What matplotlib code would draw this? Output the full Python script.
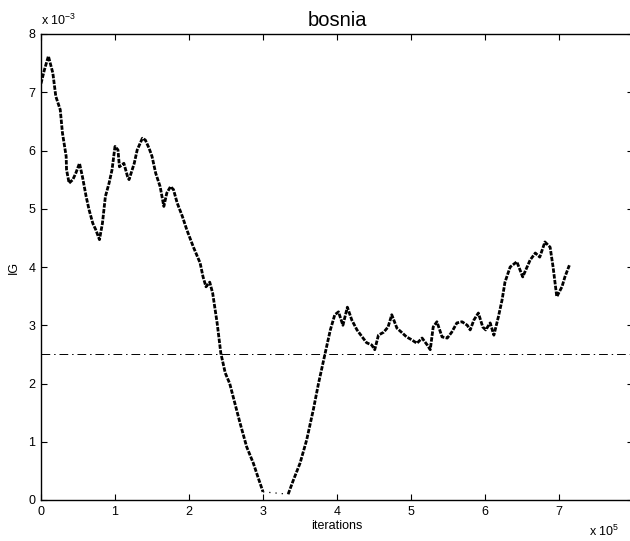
import numpy as np
import matplotlib
matplotlib.use('Agg')
import matplotlib.pyplot as plt

plt.rcParams['font.family'] = ['Liberation Sans', 'DejaVu Sans']
plt.rcParams['mathtext.fontset'] = 'custom'
plt.rcParams['mathtext.rm'] = 'Liberation Sans'

# iterations in units of 1e5, IG in units of 1e-3
x_before = [0.00, 0.045, 0.10, 0.16, 0.20, 0.26, 0.29, 0.34, 0.345, 0.38, 0.43, 0.47,
            0.52, 0.56, 0.61, 0.65, 0.70, 0.74, 0.79, 0.83, 0.87, 0.92, 0.96, 1.00,
            1.04, 1.06, 1.12, 1.17, 1.19, 1.26, 1.30, 1.37, 1.41, 1.46, 1.50, 1.55,
            1.61, 1.66, 1.70, 1.75, 1.79, 1.84, 1.91, 1.97, 2.06, 2.15, 2.19, 2.23,
            2.28, 2.32, 2.38, 2.43, 2.49, 2.55, 2.62, 2.69, 2.78, 2.87, 2.93, 3.00]
ig_before = [7.15, 7.38, 7.62, 7.33, 6.93, 6.70, 6.30, 5.90, 5.67, 5.44, 5.50, 5.61,
             5.78, 5.55, 5.21, 4.98, 4.75, 4.64, 4.47, 4.75, 5.21, 5.44, 5.67, 6.07,
             6.01, 5.72, 5.78, 5.55, 5.50, 5.78, 6.01, 6.21, 6.18, 6.04, 5.90, 5.61,
             5.38, 5.04, 5.27, 5.38, 5.33, 5.10, 4.87, 4.64, 4.34, 4.07, 3.83, 3.66,
             3.74, 3.55, 3.04, 2.52, 2.18, 2.00, 1.66, 1.32, 0.91, 0.63, 0.40, 0.14]

x_after = [3.34, 3.41, 3.50, 3.59, 3.68, 3.75, 3.84, 3.91, 3.97, 4.02, 4.08, 4.14,
           4.20, 4.27, 4.34, 4.40, 4.47, 4.51, 4.56, 4.63, 4.69, 4.74, 4.81, 4.88,
           4.94, 5.01, 5.08, 5.15, 5.22, 5.26, 5.30, 5.35, 5.42, 5.49, 5.55, 5.62,
           5.69, 5.76, 5.80, 5.85, 5.91, 5.97, 6.01, 6.07, 6.12, 6.18, 6.23, 6.27,
           6.34, 6.43, 6.51, 6.61, 6.68, 6.74, 6.81, 6.88, 6.92, 6.97, 7.04, 7.08, 7.14]
ig_after = [0.10, 0.34, 0.63, 1.03, 1.55, 2.00, 2.52, 2.92, 3.18, 3.23, 3.00, 3.31,
            3.09, 2.92, 2.80, 2.70, 2.66, 2.58, 2.83, 2.88, 2.97, 3.18, 2.95, 2.87,
            2.80, 2.75, 2.69, 2.78, 2.66, 2.58, 2.97, 3.06, 2.80, 2.78, 2.88, 3.04,
            3.06, 3.00, 2.92, 3.09, 3.21, 2.97, 2.92, 3.04, 2.83, 3.14, 3.43, 3.74,
            4.00, 4.09, 3.83, 4.12, 4.24, 4.17, 4.43, 4.34, 4.00, 3.49, 3.66, 3.83, 4.03]

threshold = 2.5

fig = plt.figure(figsize=(6.3, 5.41), dpi=100)
ax = fig.add_axes([41 / 630, 41 / 541, 592 / 630, 466 / 541])

ax.plot(x_before, ig_before, color='black', lw=2.0, ls=(0, (1.6, 0.5)))
ax.plot(x_after, ig_after, color='black', lw=2.0, ls=(0, (1.6, 0.5)))
# sparse stretch between the two dense parts
ax.plot([x_before[-1], x_after[0]], [ig_before[-1], ig_after[0]],
        color='black', lw=0.9, ls=(0, (1, 4)))
ax.axhline(threshold, color='black', lw=0.7, ls=(0, (9, 4, 1.5, 4)))

ax.set_xlim(0, 8)
ax.set_ylim(0, 8)
ax.set_xticks(range(0, 9))
ax.set_yticks(range(0, 9))
ax.tick_params(direction='in', length=4, width=0.8, top=True, right=True,
               labelsize=9, pad=4)
for s in ax.spines.values():
    s.set_linewidth(1.0)

ax.set_xlabel('iterations', fontsize=9, labelpad=2)
ax.set_ylabel('IG', fontsize=9, labelpad=6)
ax.set_title('bosnia', fontsize=14.5, pad=6)

ax.text(0.0, 1.012, r'x 10$^{-3}$', transform=ax.transAxes, fontsize=9,
        ha='left', va='bottom')
ax.text(0.925, -0.05, r'x 10$^{5}$', transform=ax.transAxes, fontsize=9,
        ha='left', va='top')

fig.savefig('out.png', dpi=100)
